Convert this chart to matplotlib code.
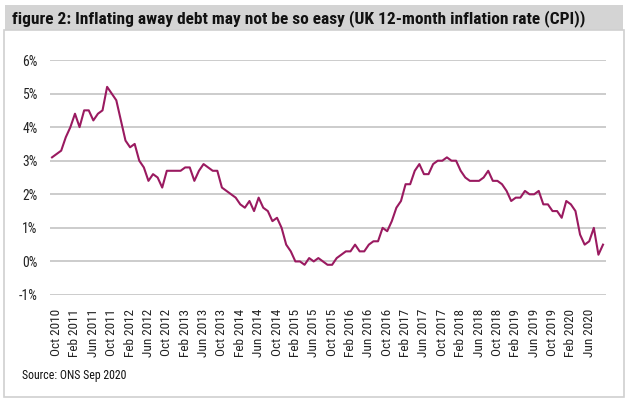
import matplotlib
matplotlib.use("Agg")
import matplotlib.pyplot as plt
from matplotlib.patches import Rectangle
from matplotlib import font_manager
from matplotlib.font_manager import FontProperties
import os

# Data: UK 12-month CPI inflation, Sep 2010 .. Sep 2020 (%)
cpi = [
    3.1, 3.2, 3.3, 3.7,                                            # 2010 Sep-Dec
    4.0, 4.4, 4.0, 4.5, 4.5, 4.2, 4.4, 4.5, 5.2, 5.0, 4.8, 4.2,    # 2011
    3.6, 3.4, 3.5, 3.0, 2.8, 2.4, 2.6, 2.5, 2.2, 2.7, 2.7, 2.7,    # 2012
    2.7, 2.8, 2.8, 2.4, 2.7, 2.9, 2.8, 2.7, 2.7, 2.2, 2.1, 2.0,    # 2013
    1.9, 1.7, 1.6, 1.8, 1.5, 1.9, 1.6, 1.5, 1.2, 1.3, 1.0, 0.5,    # 2014
    0.3, 0.0, 0.0, -0.1, 0.1, 0.0, 0.1, 0.0, -0.1, -0.1, 0.1, 0.2, # 2015
    0.3, 0.3, 0.5, 0.3, 0.3, 0.5, 0.6, 0.6, 1.0, 0.9, 1.2, 1.6,    # 2016
    1.8, 2.3, 2.3, 2.7, 2.9, 2.6, 2.6, 2.9, 3.0, 3.0, 3.1, 3.0,    # 2017
    3.0, 2.7, 2.5, 2.4, 2.4, 2.4, 2.5, 2.7, 2.4, 2.4, 2.3, 2.1,    # 2018
    1.8, 1.9, 1.9, 2.1, 2.0, 2.0, 2.1, 1.7, 1.7, 1.5, 1.5, 1.3,    # 2019
    1.8, 1.7, 1.5, 0.8, 0.5, 0.6, 1.0, 0.2, 0.5,                   # 2020 Jan-Sep
]
month_names = ["Jan", "Feb", "Mar", "Apr", "May", "Jun",
               "Jul", "Aug", "Sep", "Oct", "Nov", "Dec"]
months = []
y, m = 2010, 8
for _ in cpi:
    months.append(f"{month_names[m]} {y}")
    m += 1
    if m == 12:
        m = 0
        y += 1

yticks = [-1, 0, 1, 2, 3, 4, 5, 6]
ytick_labels = [f"{v}%" for v in yticks]
title = "figure 2: Inflating away debt may not be so easy (UK 12-month inflation rate (CPI))"
source = "Source: ONS Sep 2020"


def find_font(patterns_regular, patterns_bold):
    files = {os.path.basename(f.fname).lower(): f.fname
             for f in font_manager.fontManager.ttflist}
    for reg, bold in zip(patterns_regular, patterns_bold):
        if reg.lower() in files and bold.lower() in files:
            return files[reg.lower()], files[bold.lower()]
    return None, None


reg_f, bold_f = find_font(
    ["RobotoCondensed-Regular.ttf", "LiberationSansNarrow-Regular.ttf",
     "DejaVuSansCondensed.ttf"],
    ["RobotoCondensed-Bold.ttf", "LiberationSansNarrow-Bold.ttf",
     "DejaVuSansCondensed-Bold.ttf"])
if reg_f:
    fp_reg = lambda s: FontProperties(fname=reg_f, size=s)
    fp_bold = lambda s: FontProperties(fname=bold_f, size=s)
    condensed = True
else:
    fp_reg = lambda s: FontProperties(family="Liberation Sans", size=s)
    fp_bold = lambda s: FontProperties(family="Liberation Sans", weight="bold", size=s)
    condensed = False

line_color = "#9a1a60"
grid_color = "#c8c8c8"

fig = plt.figure(figsize=(6.28, 4.01), dpi=100)
W, H = 628, 401

fig.patches.append(Rectangle((5 / W, 1 - 30 / H), 618 / W, 25 / H,
                             transform=fig.transFigure, facecolor="#d4d4d4",
                             edgecolor="none", zorder=0))
fig.patches.append(Rectangle((4 / W, 1 - 397 / H), 620 / W, 367 / H,
                             transform=fig.transFigure, facecolor="none",
                             edgecolor="#d0d0d0", linewidth=1.2, zorder=0))

t = fig.text(12 / W, 1 - 19 / H, title, fontproperties=fp_bold(11),
             ha="left", va="center", color="#111111")
# fit title to the reference width (about 570 px)
fig.canvas.draw()
bb = t.get_window_extent()
target = 571.0
size = 11 * target / bb.width
if not condensed:
    size = min(size, 11)
t.set_fontproperties(fp_bold(size))

fig.text(22 / W, 1 - 376 / H, source, fontproperties=fp_reg(8.5 if condensed else 7.5),
         ha="left", va="center", color="#111111")

ax = fig.add_axes([50 / W, 1 - 295 / H, 556 / W, 235 / H])
x = list(range(len(cpi)))
ax.plot(x, cpi, color=line_color, linewidth=1.5, zorder=3)

ax.set_ylim(-1, 6)
ax.set_xlim(-0.44, len(cpi) - 1 + 0.65)
ax.set_yticks(yticks)
ax.set_yticklabels(ytick_labels, fontproperties=fp_reg(9.8 if condensed else 9),
                   color="#222222")
ax.yaxis.grid(True, color=grid_color, linewidth=1.3)
ax.set_axisbelow(True)

tick_idx = list(range(1, len(cpi), 4))
ax.set_xticks(tick_idx)
ax.set_xticklabels([months[i] for i in tick_idx], rotation=90,
                   fontproperties=fp_reg(9.5 if condensed else 8.5), color="#222222")
ax.tick_params(axis="both", length=0)
ax.tick_params(axis="y", pad=9)
ax.tick_params(axis="x", pad=10)
for s in ax.spines.values():
    s.set_visible(False)

fig.savefig("out.png", dpi=100)
